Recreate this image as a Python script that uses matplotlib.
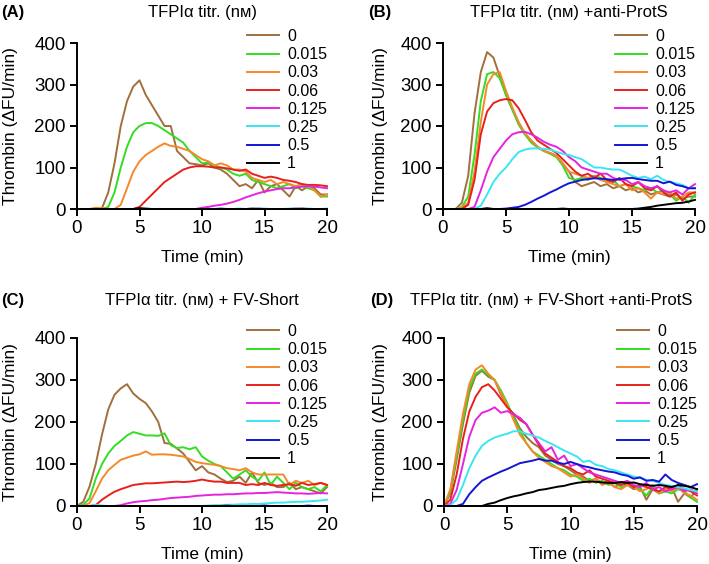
import numpy as np
import matplotlib.pyplot as plt

plt.rcParams['font.family'] = ['Liberation Sans', 'DejaVu Sans']
plt.rcParams['font.size'] = 12

# tempo (min), passo de 0.5
tempo = np.linspace(0, 20, 41)
concs = ['0', '0.015', '0.03', '0.06', '0.125', '0.25', '0.5', '1']
cores = ['#a0703c', '#33dd22', '#f5892a', '#e8201c', '#e524e0', '#3ae6f2', '#1515d6', '#000000']

# (A) TFPIa titr.
a0 = [0, 0, 0, 0, 2, 40, 110, 200, 260, 295, 310, 275, 250, 225, 200, 200, 140, 125, 110, 108,
      105, 110, 100, 95, 85, 70, 55, 60, 50, 70, 40, 55, 60, 45, 30, 55, 45, 55, 50, 35, 35]
a1 = [0, 0, 0, 0, 0, 5, 40, 100, 150, 185, 200, 207, 207, 200, 190, 180, 170, 160, 140, 125,
      110, 112, 105, 100, 95, 85, 80, 85, 70, 65, 60, 55, 50, 55, 60, 50, 55, 50, 45, 30, 30]
a2 = [0, 0, 0, 3, 2, 0, 0, 10, 50, 90, 115, 130, 140, 150, 158, 152, 150, 145, 140, 130,
      120, 115, 105, 110, 105, 95, 95, 90, 75, 70, 65, 70, 60, 65, 60, 55, 60, 55, 45, 30, 35]
a3 = [0, 0, 0, 0, 0, 0, 0, 0, 0, 0, 5, 20, 35, 50, 65, 75, 85, 95, 100, 103,
      103, 102, 100, 100, 98, 95, 92, 95, 85, 80, 75, 78, 75, 70, 68, 65, 60, 58, 58, 57, 55]
a4 = [0, 0, 0, 0, 0, 0, 0, 0, 0, 0, 0, 0, 0, 0, 0, 0, 0, 0, 0, 0,
      3, 5, 8, 10, 13, 17, 22, 28, 33, 38, 42, 45, 48, 50, 50, 52, 54, 55, 54, 52, 50]
a5 = [0, 0, 0, 0, 0, 0, 0, 0, 0, 0, 0, 0, 0, 0, 0, 0, 0, 0, 0, 0,
      0, 0, 0, 0, 0, 0, 1, 0, 0, 0, 1, 0, 0, 0, 1, 0, 0, 1, 0, 0, 1]
a6 = [0, 0, 0, 0, 0, 0, 0, 0, 0, 0, 0, 0, 0, 0, 0, 0, 0, 0, 0, 0,
      0, 0, 0, 1, 0, 0, 0, 0, 0, 1, 0, 0, 0, 0, 0, 1, 0, 0, 0, 0, 0]
a7 = [0, 0, 0, 0, 0, 0, 0, 0, 0, 0, 2, 1, 0, 0, 0, 0, 0, 0, 0, 0,
      0, 0, 0, 0, 0, 0, 0, 0, 1, 0, 0, 0, 0, 0, 0, 0, 1, 0, 0, 0, 0]

# (B) +anti-ProtS
b0 = [0, 0, 0, 15, 80, 230, 330, 378, 365, 320, 275, 240, 205, 180, 165, 150, 140, 135, 128, 110,
      90, 65, 55, 60, 65, 55, 60, 50, 55, 45, 50, 40, 45, 35, 40, 35, 30, 35, 25, 30, 30]
b1 = [0, 0, 0, 5, 30, 130, 260, 325, 330, 315, 275, 240, 205, 180, 160, 148, 140, 133, 125, 105,
      75, 70, 75, 70, 80, 75, 65, 70, 55, 60, 55, 50, 45, 50, 40, 45, 35, 20, 30, 15, 35]
b2 = [0, 0, 0, 3, 15, 90, 210, 300, 325, 330, 285, 245, 210, 183, 165, 150, 140, 135, 128, 110,
      90, 85, 80, 75, 80, 70, 65, 60, 55, 60, 45, 50, 40, 25, 40, 35, 40, 25, 30, 40, 40]
b3 = [0, 0, 0, 0, 10, 70, 180, 235, 255, 262, 265, 262, 243, 215, 185, 165, 155, 145, 135, 120,
      105, 90, 80, 85, 75, 85, 70, 65, 75, 60, 55, 65, 50, 45, 55, 40, 30, 40, 20, 35, 40]
b4 = [0, 0, 0, 0, 0, 5, 45, 90, 125, 145, 165, 180, 185, 186, 180, 172, 162, 155, 150, 140,
      125, 115, 100, 95, 90, 85, 85, 75, 70, 70, 60, 65, 55, 50, 55, 45, 40, 45, 35, 50, 60]
b5 = [0, 0, 0, 0, 0, 0, 8, 35, 65, 85, 100, 120, 137, 143, 146, 146, 145, 143, 138, 133,
      130, 125, 120, 110, 100, 100, 97, 95, 95, 88, 80, 75, 78, 72, 80, 70, 65, 62, 58, 50, 50]
b6 = [0, 0, 0, 0, 0, 0, 0, 0, 0, 0, 1, 3, 5, 10, 17, 25, 32, 40, 47, 55,
      62, 66, 70, 72, 74, 73, 72, 70, 72, 74, 75, 72, 70, 68, 68, 62, 66, 58, 55, 50, 50]
b7 = [0, 0, 0, 0, 0, 0, 0, 2, 0, 0, 0, 0, 0, 0, 0, 0, 0, 0, 0, 1,
      0, 0, 0, 0, 0, 0, 0, 0, 0, 0, 0, 1, 3, 5, 8, 10, 12, 14, 15, 18, 22]

# (C) + FV-Short
c0 = [0, 10, 46, 100, 170, 230, 265, 280, 290, 268, 255, 245, 225, 200, 150, 148, 137, 125, 105, 85,
      95, 80, 75, 65, 57, 60, 70, 55, 80, 55, 50, 55, 45, 45, 55, 40, 45, 40, 35, 30, 45]
c1 = [0, 3, 18, 65, 100, 125, 143, 155, 168, 176, 172, 168, 168, 167, 173, 145, 138, 140, 135, 140,
      118, 108, 100, 95, 80, 65, 75, 85, 70, 60, 80, 50, 70, 55, 40, 55, 45, 40, 45, 35, 50]
c2 = [0, 0, 7, 35, 65, 85, 98, 110, 115, 120, 123, 130, 122, 123, 123, 122, 120, 118, 112, 105,
      102, 100, 98, 95, 90, 88, 85, 90, 80, 75, 75, 75, 75, 75, 50, 60, 55, 60, 50, 55, 50]
c3 = [0, 0, 0, 2, 15, 25, 34, 40, 45, 50, 52, 54, 54, 55, 56, 57, 58, 57, 58, 60,
      63, 60, 58, 58, 55, 55, 55, 50, 52, 50, 55, 50, 48, 50, 52, 48, 55, 50, 52, 55, 50]
c4 = [0, 0, 0, 0, 0, 0, 0, 2, 6, 9, 11, 12, 14, 15, 17, 19, 20, 21, 22, 24,
      25, 26, 27, 27, 28, 28, 29, 30, 30, 31, 31, 32, 33, 32, 31, 30, 30, 29, 30, 31, 30]
c5 = [0, 0, 0, 3, 1, 0, 0, 0, 0, 0, 0, 0, 0, 0, 0, 0, 0, 0, 0, 0,
      0, 1, 2, 2, 3, 3, 4, 4, 5, 5, 6, 7, 8, 8, 9, 10, 10, 11, 12, 13, 15]
c6 = [0, 0, 0, 0, 0, 0, 0, 0, 0, 0, 0, 0, 0, 0, 0, 0, 0, 0, 0, 0,
      0, 0, 0, 0, 1, 0, 0, 0, 0, 0, 1, 0, 0, 0, 0, 0, 0, 1, 0, 0, 0]
c7 = [0, 0, 0, 0, 0, 0, 0, 0, 0, 0, 0, 0, 0, 0, 0, 0, 0, 0, 0, 0,
      0, 0, 0, 0, 0, 0, 0, 0, 0, 0, 0, 0, 0, 0, 0, 0, 0, 0, 0, 0, 0]

# (D) + FV-Short +anti-ProtS
d0 = [0, 30, 110, 195, 270, 310, 322, 308, 300, 265, 240, 215, 185, 165, 150, 140, 120, 110, 100, 95,
      85, 75, 70, 60, 65, 55, 60, 45, 55, 50, 40, 45, 15, 40, 30, 35, 45, 10, 30, 20, 40]
d1 = [0, 35, 118, 205, 280, 315, 325, 312, 300, 275, 245, 210, 180, 150, 130, 120, 110, 100, 90, 85,
      75, 70, 60, 65, 55, 60, 50, 55, 45, 50, 45, 40, 25, 45, 30, 35, 30, 40, 35, 20, 10]
d2 = [0, 40, 130, 220, 290, 325, 335, 315, 300, 270, 240, 205, 170, 150, 130, 115, 105, 95, 90, 80,
      70, 75, 65, 55, 65, 50, 55, 45, 40, 50, 45, 35, 40, 50, 30, 40, 35, 45, 30, 25, 15]
d3 = [0, 15, 75, 160, 225, 260, 283, 290, 275, 255, 235, 220, 205, 195, 170, 145, 125, 115, 105, 95,
      90, 80, 75, 85, 70, 65, 60, 55, 50, 55, 45, 50, 45, 40, 35, 45, 40, 50, 40, 35, 25]
d4 = [0, 5, 38, 100, 165, 205, 222, 227, 235, 222, 226, 218, 210, 195, 170, 150, 130, 140, 110, 120,
      95, 100, 90, 80, 75, 70, 65, 60, 55, 60, 50, 45, 55, 40, 45, 35, 40, 45, 35, 40, 30]
d5 = [0, 2, 15, 50, 90, 120, 143, 155, 163, 168, 172, 178, 178, 172, 168, 163, 155, 148, 140, 132,
      125, 118, 105, 108, 98, 95, 88, 85, 80, 75, 70, 68, 62, 60, 55, 50, 48, 45, 42, 38, 35]
d6 = [0, 0, 0, 5, 28, 45, 60, 68, 75, 82, 88, 95, 102, 105, 108, 112, 108, 108, 103, 100,
      105, 100, 95, 92, 88, 85, 82, 80, 75, 72, 65, 68, 60, 62, 58, 75, 62, 55, 50, 45, 52]
d7 = [0, 0, 0, 0, 0, 0, 0, 5, 8, 14, 19, 23, 26, 30, 33, 38, 40, 43, 46, 48,
      52, 55, 57, 58, 58, 56, 55, 55, 57, 55, 56, 52, 50, 48, 50, 48, 45, 50, 48, 45, 40]

paineis = [
    ('(A)', 'TFPI\u03b1 titr. (n\u1d0d)', [a0, a1, a2, a3, a4, a5, a6, a7]),
    ('(B)', 'TFPI\u03b1 titr. (n\u1d0d) +anti-ProtS', [b0, b1, b2, b3, b4, b5, b6, b7]),
    ('(C)', 'TFPI\u03b1 titr. (n\u1d0d) + FV-Short', [c0, c1, c2, c3, c4, c5, c6, c7]),
    ('(D)', 'TFPI\u03b1 titr. (n\u1d0d) + FV-Short +anti-ProtS', [d0, d1, d2, d3, d4, d5, d6, d7]),
]

# layout em pixels (figura 709x564): eixos, rotulos e titulos
W, H = 709, 564
posicoes = [
    [77/W, 1 - 209/H, 250/W, 166/H],
    [443/W, 1 - 209/H, 252/W, 166/H],
    [77/W, 1 - 506/H, 250/W, 168/H],
    [444/W, 1 - 506/H, 253/W, 168/H],
]
letra_xy = [(1, 12), (368, 12), (1, 301), (370, 301)]
titulo_x = [202, 569, 202, 551]
titulo_y = [12, 12, 301, 301]
ylab_x = [11, 381, 11, 381]

fig = plt.figure(figsize=(7.09, 5.64), dpi=100)

for i, (letra, titulo, series) in enumerate(paineis):
    ax = fig.add_axes(posicoes[i])
    linhas = []
    for y, cor, lab in zip(series, cores, concs):
        ln, = ax.plot(tempo, y, color=cor, lw=1.4, label=lab, clip_on=False)
        linhas.append(ln)
    ax.set_xlim(0, 20)
    ax.set_ylim(0, 400)
    ax.set_xticks([0, 5, 10, 15, 20])
    ax.set_yticks([0, 100, 200, 300, 400])
    ax.spines['top'].set_visible(False)
    ax.spines['right'].set_visible(False)
    ax.spines['left'].set_linewidth(1.4)
    ax.spines['bottom'].set_linewidth(1.4)
    ax.tick_params(direction='out', length=5, width=1.4, labelsize=13.5, pad=3)
    ax.set_xlabel('Time (min)', fontsize=12.5)
    ax.set_ylabel('Thrombin (\u0394FU/min)', fontsize=12.5)
    larg = posicoes[i][2] * W
    alt = posicoes[i][3] * H
    esq = posicoes[i][0] * W
    ax.xaxis.set_label_coords(0.5, -48/alt)
    ax.yaxis.set_label_coords((ylab_x[i] - esq)/larg, 0.5)
    ax.xaxis.label.set_va('center')
    ax.yaxis.label.set_va('center')
    ax.legend(handles=linhas, loc='upper right', bbox_to_anchor=(1.0, 1 + 14/alt),
              frameon=False, fontsize=11.5, handlelength=2.0, handletextpad=0.5,
              labelspacing=0.2, borderpad=0, borderaxespad=0)
    fig.text(titulo_x[i]/W, 1 - titulo_y[i]/H, titulo, fontsize=12,
             ha='center', va='center')
    fig.text(letra_xy[i][0]/W, 1 - letra_xy[i][1]/H, letra, fontsize=12,
             fontweight='bold', ha='left', va='center')

fig.savefig('out.png', dpi=100)
